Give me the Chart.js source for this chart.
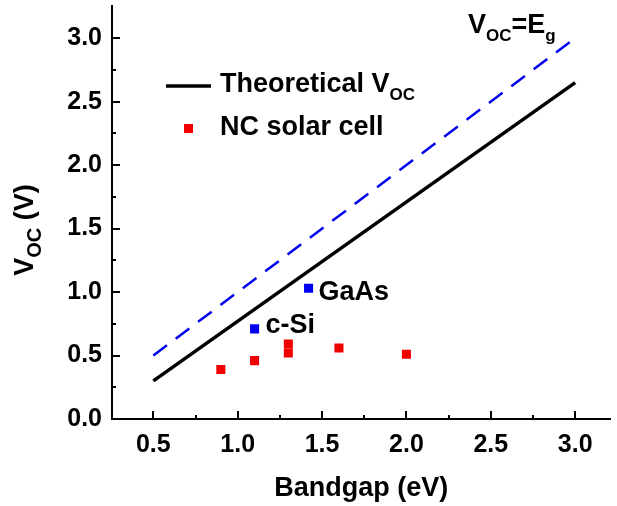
<!DOCTYPE html>
<html>
<head>
<meta charset="utf-8">
<script src="https://cdn.jsdelivr.net/npm/chart.js@4"></script>
<style>
  html, body { margin: 0; padding: 0; background: #fff; }
  #wrap { width: 617px; height: 506px; }
</style>
</head>
<body>
<div id="wrap"><canvas id="chart"></canvas></div>
<script>
// bandgap (eV) vs open-circuit voltage (V)
const theoryX = [0.5, 3.0];
const theoryY = [0.3, 2.65];
const limitX = [0.5, 3.0];
const limitY = [0.5, 3.0];
const ncX = [0.9, 1.1, 1.3, 1.3, 1.6, 2.0];
const ncY = [0.39, 0.46, 0.59, 0.52, 0.56, 0.51];
const refNames = ["c-Si", "GaAs"];
const refX = [1.1, 1.42];
const refY = [0.71, 1.03];

const xTicks = [0.5, 1.0, 1.5, 2.0, 2.5, 3.0];
const xMinor = [0.75, 1.25, 1.75, 2.25, 2.75];
const yTicks = [0.0, 0.5, 1.0, 1.5, 2.0, 2.5, 3.0];
const yMinor = [0.25, 0.75, 1.25, 1.75, 2.25, 2.75];

const FONT = "'Liberation Sans', Arial, sans-serif";
const RED = "#f00000";
const BLUE = "#0000f0";
const TEXT = 27;
const refLabelOffset = [[11, 4], [10, 12]];

const pts = (xs, ys) => xs.map((x, i) => ({ x, y: ys[i] }));

// draws text with subscript parts: parts = [[text, isSub], ...]
function drawRich(ctx, x, y, parts, size, measureOnly, subRatio = 0.62) {
    let cx = x;
    parts.forEach(([t, sub]) => {
        const s = sub ? Math.round(size * subRatio) : size;
        ctx.font = `bold ${s}px ${FONT}`;
        if (!measureOnly) ctx.fillText(t, cx, sub ? y + size * 0.3 : y);
        cx += ctx.measureText(t).width;
    });
    return cx - x;
}

const decorations = {
    id: "decorations",
    afterDraw(chart) {
        const { ctx, scales: { x, y }, chartArea } = chart;
        ctx.save();
        ctx.strokeStyle = "#000";
        ctx.lineWidth = 2;
        // inward tick marks
        const tickX = (list, len) => list.forEach((v) => {
            const px = Math.round(x.getPixelForValue(v));
            ctx.beginPath();
            ctx.moveTo(px, chartArea.bottom);
            ctx.lineTo(px, chartArea.bottom - len);
            ctx.stroke();
        });
        const tickY = (list, len) => list.forEach((v) => {
            const py = Math.round(y.getPixelForValue(v));
            ctx.beginPath();
            ctx.moveTo(chartArea.left, py);
            ctx.lineTo(chartArea.left + len, py);
            ctx.stroke();
        });
        tickX(xTicks, 8);
        tickX(xMinor, 4);
        tickY(yTicks, 8);
        tickY(yMinor, 4);

        ctx.fillStyle = "#000";
        ctx.textAlign = "left";
        ctx.textBaseline = "alphabetic";

        // legend
        ctx.lineWidth = 3.5;
        ctx.beginPath();
        ctx.moveTo(166, 86);
        ctx.lineTo(211, 86);
        ctx.stroke();
        drawRich(ctx, 220, 92, [["Theoretical V", false], ["OC", true]], TEXT);
        ctx.fillStyle = RED;
        ctx.fillRect(184, 124, 9, 9);
        ctx.fillStyle = "#000";
        drawRich(ctx, 220, 135, [["NC solar cell", false]], TEXT);

        // Voc = Eg label
        drawRich(ctx, 468, 33, [["V", false], ["OC", true], ["=E", false], ["g", true]], TEXT);

        // reference cell labels next to their points
        refNames.forEach((name, i) => {
            const px = x.getPixelForValue(refX[i]);
            const py = y.getPixelForValue(refY[i]);
            drawRich(ctx, px + refLabelOffset[i][0], py + refLabelOffset[i][1], [[name, false]], TEXT);
        });

        // y axis title
        const parts = [["V", false], ["OC", true], [" (V)", false]];
        ctx.translate(33, 230);
        ctx.rotate(-Math.PI / 2);
        const total = drawRich(ctx, 0, 0, parts, TEXT, true, 0.75);
        drawRich(ctx, -total / 2, 0, parts, TEXT, false, 0.75);
        ctx.restore();
    },
};

new Chart(document.getElementById("chart"), {
    type: "scatter",
    data: {
        datasets: [
            {
                data: pts(limitX, limitY),
                showLine: true,
                borderColor: BLUE,
                borderWidth: 2.5,
                borderDash: [17, 11],
                pointRadius: 0,
            },
            {
                data: pts(theoryX, theoryY),
                showLine: true,
                borderColor: "#000",
                borderWidth: 3.5,
                pointRadius: 0,
            },
            {
                data: pts(ncX, ncY),
                pointStyle: "rect",
                pointRadius: 6.4,
                backgroundColor: RED,
                borderWidth: 0,
            },
            {
                data: pts(refX, refY),
                pointStyle: "rect",
                pointRadius: 6.4,
                backgroundColor: BLUE,
                borderWidth: 0,
            },
        ],
    },
    options: {
        responsive: true,
        maintainAspectRatio: false,
        animation: false,
        layout: { padding: { top: 3, right: 0, left: 0, bottom: 0 } },
        plugins: {
            legend: { display: false },
            tooltip: { enabled: false },
        },
        scales: {
            x: {
                type: "linear",
                min: 0.255,
                max: 3.21,
                afterBuildTicks: (scale) => {
                    scale.ticks = xTicks.map((v) => ({ value: v }));
                },
                afterFit: (scale) => {
                    scale.height = 87;
                    scale.paddingLeft = 0;
                    scale.paddingRight = 0;
                },
                grid: { display: false, drawTicks: false },
                border: { display: true, color: "#000", width: 2 },
                ticks: {
                    padding: 11,
                    color: "#000",
                    font: { family: FONT, size: 25, weight: "bold" },
                    callback: (v) => v.toFixed(1),
                },
                title: {
                    display: true,
                    text: "Bandgap (eV)",
                    color: "#000",
                    font: { family: FONT, size: TEXT, weight: "bold" },
                    padding: { top: 4, bottom: 1 },
                },
            },
            y: {
                type: "linear",
                min: 0,
                max: 3.25,
                afterBuildTicks: (scale) => {
                    scale.ticks = yTicks.map((v) => ({ value: v }));
                },
                afterFit: (scale) => {
                    scale.width = 112;
                    scale.paddingTop = 0;
                    scale.paddingBottom = 0;
                },
                grid: { display: false, drawTicks: false },
                border: { display: true, color: "#000", width: 2 },
                ticks: {
                    padding: 10,
                    color: "#000",
                    font: { family: FONT, size: 25, weight: "bold" },
                    callback: (v) => v.toFixed(1),
                },
            },
        },
    },
    plugins: [decorations],
});
</script>
</body>
</html>
